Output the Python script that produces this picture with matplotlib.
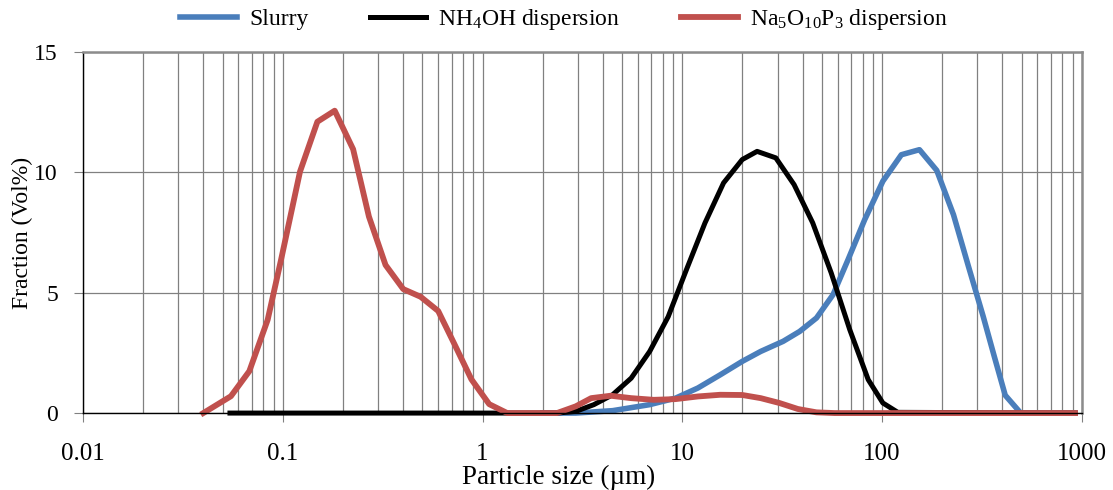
import numpy as np
from matplotlib import pyplot as plt
from matplotlib.ticker import LogLocator, FixedLocator, FixedFormatter

plt.rcParams['font.family'] = ['Liberation Serif', 'DejaVu Serif']
plt.rcParams['mathtext.fontset'] = 'custom'
plt.rcParams['mathtext.rm'] = 'Liberation Serif'
plt.rcParams['mathtext.it'] = 'Liberation Serif'
plt.rcParams['mathtext.default'] = 'regular'

# slurry (blue)
slurry_x = [2.0, 2.93, 4.48, 6.87, 9.26, 11.97, 15.5, 20.0, 24.7, 32.0, 38.7, 47.0,
            56.9, 67.6, 81.9, 101, 125, 154, 188, 228, 271, 321, 365, 414, 495, 926]
slurry_y = [0, 0.0, 0.1, 0.35, 0.62, 1.04, 1.59, 2.15, 2.56, 2.98, 3.39, 3.95,
            4.92, 6.37, 8.03, 9.63, 10.73, 10.94, 10.08, 8.24, 6.09, 4.02, 2.35, 0.74, 0.0, 0]

# NH4OH dispersion (black)
nh4_x = [0.0544, 1.0, 2.36, 2.93, 3.61, 4.48, 5.55, 6.87, 8.5, 10.5, 13.0, 16.1, 19.97,
         23.7, 29.4, 36.3, 45.0, 55.7, 69.0, 85.3, 101, 120, 926]
nh4_y = [0, 0, 0, 0.07, 0.35, 0.76, 1.45, 2.56, 4.0, 5.96, 7.9, 9.56, 10.53,
         10.87, 10.6, 9.49, 7.9, 5.82, 3.46, 1.39, 0.42, 0.03, 0]

# Na5O10P3 dispersion (red)
na_x = [0.040, 0.055, 0.068, 0.084, 0.098, 0.122, 0.149, 0.182, 0.225, 0.270, 0.327,
        0.401, 0.49, 0.60, 0.72, 0.88, 1.08, 1.33, 2.36, 2.93, 3.5, 4.38, 5.55, 7.2,
        9.26, 11.97, 15.5, 20.0, 24.7, 30.6, 37.9, 47.0, 57.9, 926]
na_y = [0, 0.7, 1.74, 3.87, 6.36, 10.03, 12.1, 12.56, 10.96, 8.16, 6.15,
        5.15, 4.83, 4.24, 2.9, 1.4, 0.37, 0, 0, 0.28, 0.62, 0.72, 0.62, 0.55,
        0.58, 0.69, 0.76, 0.75, 0.62, 0.42, 0.17, 0.03, 0, 0]

fig = plt.figure(figsize=(11.13, 4.9), dpi=100)
ax = fig.add_axes([0.0746, 0.157, 0.8973, 0.737])

ax.plot(slurry_x, slurry_y, color='#4a7ebb', lw=4.0, label='Slurry', clip_on=False)
ax.plot(nh4_x, nh4_y, color='black', lw=3.6, label=r'NH$_4$OH dispersion', clip_on=False)
ax.plot(na_x, na_y, color='#c0504d', lw=4.2, label=r'Na$_5$O$_{10}$P$_3$ dispersion', clip_on=False)

ax.set_xscale('log')
ax.set_xlim(0.01, 1000)
ax.set_ylim(0, 15)
ax.set_yticks([0, 5, 10, 15])
ax.xaxis.set_major_locator(FixedLocator([0.01, 0.1, 1, 10, 100, 1000]))
ax.xaxis.set_major_formatter(FixedFormatter(['0.01', '0.1', '1', '10', '100', '1000']))
ax.xaxis.set_minor_locator(LogLocator(base=10, subs=np.arange(2, 10)))
ax.xaxis.set_minor_formatter(FixedFormatter([]))

ax.grid(True, which='both', axis='x', color='#808080', lw=0.9)
ax.grid(True, which='major', axis='y', color='#808080', lw=0.9)
ax.set_axisbelow(True)

for s in ['top', 'right']:
    ax.spines[s].set_color('#8c8c8c')
    ax.spines[s].set_linewidth(1.8)
for s in ['left', 'bottom']:
    ax.spines[s].set_color('black')
    ax.spines[s].set_linewidth(1.0)

ax.tick_params(axis='both', which='major', direction='out', length=6.5, width=0.8,
               color='#808080')
ax.tick_params(axis='x', which='major', pad=15, labelsize=18)
ax.tick_params(axis='y', which='major', pad=11.5, labelsize=17)
ax.tick_params(axis='x', which='minor', length=0)

ax.set_xlabel('Particle size (\u00b5m)', fontsize=19.5)
ax.xaxis.set_label_coords(0.4766, -0.177)
ax.xaxis.label.set_va('center')
ax.set_ylabel('Fraction (Vol%)', fontsize=17)
ax.yaxis.set_label_coords(-0.0606, 0.5)
ax.yaxis.label.set_va('center')

ax.legend(loc='center', bbox_to_anchor=(0.4816, 1.0886), ncol=3, frameon=False,
          fontsize=17, handlelength=2.4, handletextpad=0.5, columnspacing=2.6)

plt.savefig('out.png', dpi=100)
